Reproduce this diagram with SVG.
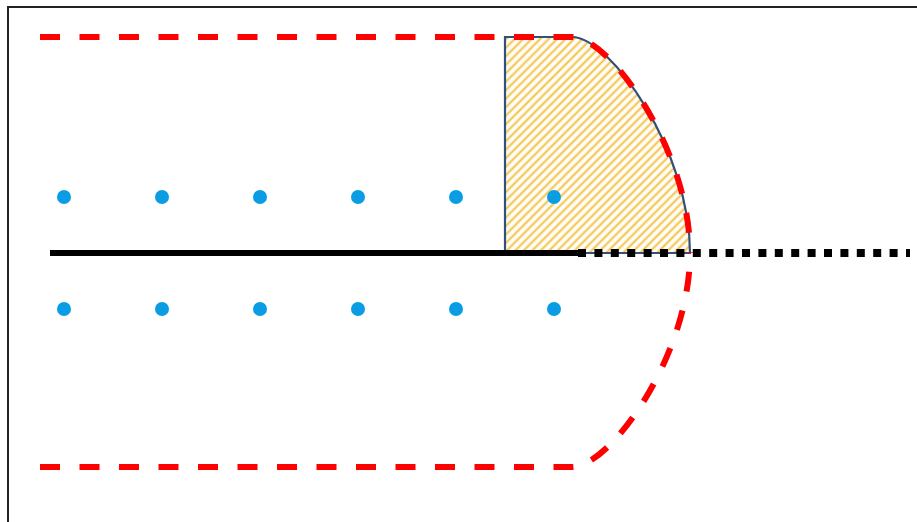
<svg xmlns="http://www.w3.org/2000/svg" width="917" height="522" viewBox="0 0 917 522">
  <defs>
    <pattern id="hatch" patternUnits="userSpaceOnUse" width="6" height="6" patternTransform="rotate(45)">
      <rect width="6" height="6" fill="#FFFDF5"/>
      <line x1="1.5" y1="0" x2="1.5" y2="6" stroke="#F2C045" stroke-width="1.9"/>
    </pattern>
    <style>
      .frame { fill: none; stroke: #222222; stroke-width: 2; }
      .red { fill: none; stroke: #FF0000; stroke-width: 6; stroke-dasharray: 20 19.5; }
      .dot { fill: #0B9DE3; }
      .axis { stroke: #000000; stroke-width: 6; }
      .dotted { stroke: #000000; stroke-width: 8; stroke-dasharray: 8 8.4; }
      .zone { fill: url(#hatch); stroke: #33507A; stroke-width: 2.2; }
    </style>
  </defs>
  <rect width="917" height="522" fill="#ffffff"/>
  <path class="frame" d="M8 522 V7 H917"/>

  <g id="zone">
    <path class="zone" d="M505 37 V253 H690 C690 150 610 37 572 37 Z"/>
  </g>

  <g id="dots">
    <circle class="dot" cx="64" cy="197" r="7"/>
    <circle class="dot" cx="162" cy="197" r="7"/>
    <circle class="dot" cx="260" cy="197" r="7"/>
    <circle class="dot" cx="358" cy="197" r="7"/>
    <circle class="dot" cx="456" cy="197" r="7"/>
    <circle class="dot" cx="554" cy="197" r="7"/>
    <circle class="dot" cx="64" cy="309" r="7"/>
    <circle class="dot" cx="162" cy="309" r="7"/>
    <circle class="dot" cx="260" cy="309" r="7"/>
    <circle class="dot" cx="358" cy="309" r="7"/>
    <circle class="dot" cx="456" cy="309" r="7"/>
    <circle class="dot" cx="554" cy="309" r="7"/>
  </g>

  <g id="connectors">
    <line class="axis" x1="50" y1="253" x2="580" y2="253"/>
    <line class="dotted" x1="578" y1="253" x2="910" y2="253"/>
    <path class="red" d="M40 37 H572 C610 37 690 150 690 253"/>
    <path class="red" d="M40 467 H572 C610 467 690 356 690 253"/>
  </g>
</svg>
